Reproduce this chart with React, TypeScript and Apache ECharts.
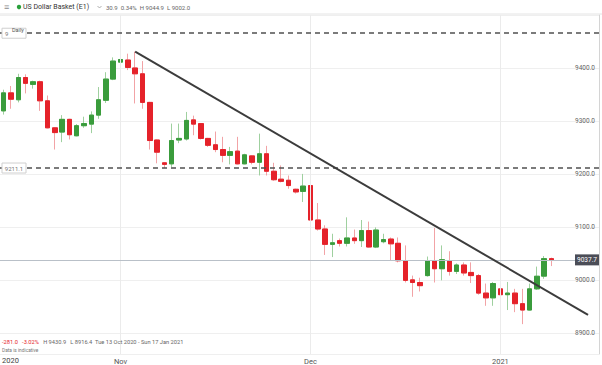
import React, { useEffect, useRef } from "react";
import * as echarts from "echarts";

// OHLC (index = trading session, 13 Oct 2020 onward)
const opens = [
  9319, 9353, 9340, 9382, 9369, 9374, 9338, 9287, 9279, 9303,
  9272, 9291, 9294, 9311, 9339, 9379, 9411, 9415, 9400, 9389,
  9335, 9264, 9221, 9219, 9264, 9266, 9302, 9295, 9267, 9255,
  9246, 9235, 9243, 9219, 9234, 9222, 9238, 9205, 9190, 9188,
  9171, 9167, 9178, 9113, 9096, 9067, 9074, 9069, 9079, 9074,
  9093, 9062, 9072, 9077, 9069, 9036, 9000, 8995, 9008, 9036,
  9021, 9036, 9016, 9028, 9014, 9008, 8975, 8966, 8983, 8972,
  8975, 8955, 8943, 8983, 9007, 9040,
];
const closes = [
  9353, 9341, 9382, 9371, 9374, 9338, 9287, 9278, 9303, 9274,
  9291, 9295, 9311, 9340, 9379, 9413, 9416, 9401, 9389, 9335,
  9263, 9241, 9218, 9263, 9267, 9301, 9294, 9267, 9254, 9246,
  9235, 9242, 9219, 9236, 9222, 9238, 9205, 9189, 9186, 9178,
  9166, 9177, 9113, 9096, 9067, 9070, 9069, 9079, 9074, 9093,
  9062, 9094, 9076, 9068, 9036, 8999, 8995, 8989, 9036, 9021,
  9038, 9016, 9028, 9013, 9008, 8975, 8966, 8993, 8972, 8975,
  8955, 8943, 8983, 9006.8, 9040, 9037.7,
];
const lows = [
  9312, 9323, 9335, 9352, 9361, 9319, 9286, 9246, 9260, 9265,
  9271, 9287, 9277, 9304, 9334, 9377, 9407, 9396, 9333, 9323,
  9246, 9220, 9211, 9213, 9258, 9263, 9273, 9265, 9251, 9241,
  9222, 9218, 9218, 9218, 9218, 9197, 9197, 9187, 9184, 9172,
  9163, 9147, 9109, 9093, 9047, 9043, 9063, 9063, 9068, 9062,
  9061, 9060, 9069, 9036, 9033, 8995, 8968, 8978, 9006, 8995,
  8999, 9008, 9011, 9008, 8994, 8972, 8951, 8951, 8966, 8943,
  8939, 8916.4, 8942, 8981, 9002, 9026,
];
const highs = [
  9359, 9366, 9389, 9388, 9376, 9376, 9348, 9288, 9311, 9304,
  9294, 9308, 9318, 9364, 9392, 9420, 9418, 9427, 9430.9, 9413,
  9336, 9265, 9222, 9295, 9295, 9317, 9310, 9296, 9268, 9280,
  9270, 9251, 9270, 9238, 9235, 9276, 9253, 9221, 9216, 9197,
  9172, 9200, 9179, 9145, 9103, 9087, 9078, 9118, 9095, 9113,
  9110, 9099, 9087, 9080, 9080, 9065, 9008, 9004, 9044, 9098,
  9065, 9054, 9031, 9033, 9033, 9011, 8993, 8996, 8987, 8996,
  8983, 8983, 8993, 9025, 9044.9, 9042,
];

const futureSlots = 6;
const monthTickIndex = [16, 42, 68];
const monthTickLabel = ["Nov", "Dec", "2021"];
const firstYearLabel = "2020";
const yMin = 8860;
const yMax = 9500;
const dashedLevels = [9465.6, 9211.1];
const dashedLevelTags = ["9", "9211.1"];
const lastPrice = 9037.7;
const lastPriceTag = "9037.7";
const trendStart = [18, 9430.9];
const trendEnd = [80, 8934];
const titleText = "US Dollar Basket (E1)";
const headerStats = "30.9  0.34%  H 9044.9  L 9002.0";
const rangeChange = ["-281.0", "-3.02%"];
const rangeHighLow = ["H 9430.9", "L 8916.4"];
const rangeDates = "Tue 13 Oct 2020 - Sun 17 Jan 2021";
const disclaimer = "Data is indicative";

const UP = "#3a9c3c";
const DOWN = "#e5222a";
const UP_WICK = "#9fd09f";
const DOWN_WICK = "#f2a3a6";
const FONT = "Roboto, 'Noto Sans', sans-serif";

export default function App() {
  const ref = useRef<HTMLDivElement>(null);

  useEffect(() => {
    const chart = echarts.init(ref.current!, null, { renderer: "svg" });
    const n = opens.length;
    const cats = Array.from({ length: n + futureSlots }, (_, i) => String(i));
    const wickData = opens.map((o, i) => [o, closes[i], lows[i], highs[i]]);
    const bodyData = opens.map((o, i) => [
      o,
      closes[i],
      Math.min(o, closes[i]),
      Math.max(o, closes[i]),
    ]);

    chart.setOption({
      animation: false,
      textStyle: { fontFamily: FONT },
      grid: { left: -1, right: 3, top: 15, bottom: 11, containLabel: false },
      xAxis: {
        type: "category",
        data: cats,
        boundaryGap: true,
        axisLine: { show: false },
        axisTick: { show: false },
        splitLine: { show: false },
        axisLabel: {
          interval: (i: number) => monthTickIndex.includes(i),
          formatter: (v: string) => {
            const k = monthTickIndex.indexOf(Number(v));
            return k >= 0 ? monthTickLabel[k] : "";
          },
          fontSize: 7.5,
          color: "#555",
          margin: 3,
        },
      },
      yAxis: {
        type: "value",
        position: "right",
        min: yMin,
        max: yMax,
        minInterval: 100,
        maxInterval: 100,
        axisLine: { show: true, lineStyle: { color: "#d4d4d4" } },
        axisTick: { show: false },
        axisLabel: {
          inside: true,
          fontSize: 6.5,
          color: "#666",
          margin: 4,
          showMinLabel: false,
          showMaxLabel: false,
          formatter: (v: number) => (v % 100 === 0 ? v.toFixed(1) : ""),
        },
        splitLine: { lineStyle: { color: "#efefef", width: 1 } },
      },
      series: [
        {
          type: "candlestick",
          z: 2,
          data: wickData,
          barWidth: 5,
          itemStyle: {
            color: "rgba(0,0,0,0)",
            color0: "rgba(0,0,0,0)",
            borderColor: UP_WICK,
            borderColor0: DOWN_WICK,
            borderWidth: 1,
          },
          markLine: {
            silent: true,
            symbol: ["none", "none"],
            label: { show: false },
            data: [
              ...monthTickIndex.map((i) => ({
                xAxis: i,
                lineStyle: { color: "#ebebeb", width: 1, type: "solid" },
              })),
              {
                yAxis: lastPrice,
                lineStyle: { color: "#b9c0c8", width: 1, type: "solid" },
              },
            ],
          },
        },
        {
          type: "candlestick",
          z: 3,
          data: bodyData,
          barWidth: 5,
          itemStyle: {
            color: UP,
            color0: DOWN,
            borderColor: UP,
            borderColor0: DOWN,
            borderWidth: 1,
          },
          markLine: {
            silent: true,
            symbol: ["none", "none"],
            label: { show: false },
            data: [
              ...dashedLevels.map((v) => ({
                yAxis: v,
                lineStyle: { color: "#505050", width: 1.5, type: [5, 4] },
              })),
              [
                { coord: trendStart, lineStyle: { color: "#3c3c3c", width: 2, type: "solid" } },
                { coord: trendEnd },
              ],
            ],
          },
        },
      ],
    });

    const yPix = (v: number) => chart.convertToPixel({ yAxisIndex: 0 }, v) as number;
    const small = { fontFamily: FONT };
    const graphics: any[] = [
      { type: "line", shape: { x1: 0, y1: 14, x2: 602, y2: 14 }, style: { stroke: "#e4e4e4", lineWidth: 1 }, z: 10 },
      { type: "text", x: 4, y: 7, style: { ...small, text: "≡", fontSize: 9, fill: "#8a8a8a", verticalAlign: "middle" }, z: 10 },
      { type: "circle", shape: { cx: 19, cy: 7, r: 2.2 }, style: { fill: "#2aa03c" }, z: 10 },
      { type: "text", x: 23, y: 7, style: { ...small, text: titleText, fontSize: 7, fill: "#333", verticalAlign: "middle" }, z: 10 },
      { type: "polyline", shape: { points: [[97.5, 6], [99.5, 8], [101.5, 6]] }, style: { stroke: "#9a9a9a", lineWidth: 0.8, fill: "none" }, z: 10 },
      { type: "text", x: 106, y: 7, style: { ...small, text: headerStats, fontSize: 6, fill: "#666", verticalAlign: "middle" }, z: 10 },
    ];

    dashedLevels.forEach((v, k) => {
      const y = yPix(v);
      graphics.push({
        type: "rect",
        shape: { x: 2, y: y - 5, width: 24, height: 10 },
        style: { fill: "#fff", stroke: "#cfcfcf", lineWidth: 1 },
        z: 10,
      });
      graphics.push({
        type: "text",
        x: k === 0 ? 5 : 14,
        y,
        style: {
          ...small,
          text: dashedLevelTags[k],
          fontSize: 6,
          fill: "#777",
          align: k === 0 ? "left" : "center",
          verticalAlign: "middle",
        },
        z: 11,
      });
    });
    graphics.push({
      type: "text",
      x: 12,
      y: yPix(dashedLevels[0]) - 3.5,
      style: { ...small, text: "Daily", fontSize: 5.5, fill: "#555", verticalAlign: "middle" },
      z: 12,
    });

    const yp = yPix(lastPrice);
    graphics.push({
      type: "rect",
      shape: { x: 575, y: yp - 5.5, width: 24, height: 11 },
      style: { fill: "#4b4d57" },
      z: 10,
    });
    graphics.push({
      type: "text",
      x: 587,
      y: yp,
      style: { ...small, text: lastPriceTag, fontSize: 6.5, fill: "#fff", align: "center", verticalAlign: "middle" },
      z: 11,
    });

    graphics.push(
      {
        type: "text",
        x: 2,
        y: 342,
        style: {
          ...small,
          text:
            `{r|${rangeChange[0]}}   {r|${rangeChange[1]}}   {g|${rangeHighLow[0]}}   {g|${rangeHighLow[1]}}  {g|${rangeDates}}`,
          fontSize: 5.7,
          verticalAlign: "middle",
          rich: {
            r: { fill: "#e5222a", fontSize: 5.7, fontFamily: FONT },
            g: { fill: "#666", fontSize: 5.7, fontFamily: FONT },
          },
        },
        z: 10,
      },
      { type: "text", x: 2, y: 350.5, style: { ...small, text: disclaimer, fontSize: 4.8, fill: "#777", verticalAlign: "middle" }, z: 10 },
      { type: "text", x: 2, y: 360, style: { ...small, text: firstYearLabel, fontSize: 7.5, fill: "#444", verticalAlign: "middle" }, z: 10 }
    );

    chart.setOption({ graphic: graphics });

    return () => chart.dispose();
  }, []);

  return (
    <div
      ref={ref}
      style={{ position: "absolute", left: 0, top: 0, width: 602, height: 365, background: "#fff" }}
    />
  );
}
